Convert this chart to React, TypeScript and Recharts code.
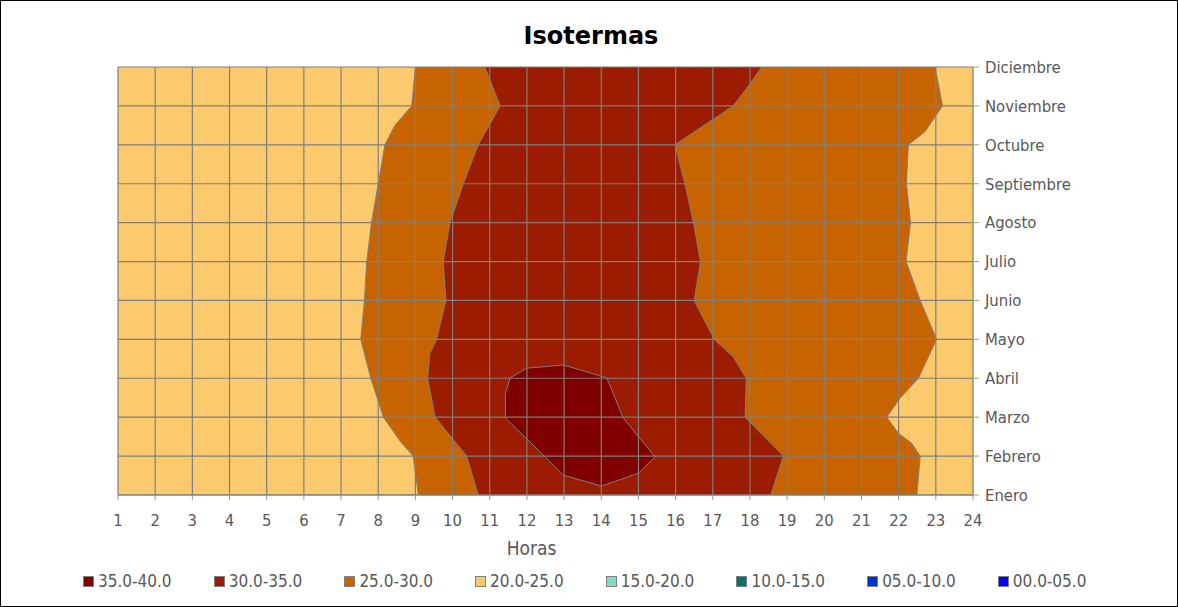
import React from 'react';
import { ComposedChart, Area, XAxis, YAxis, CartesianGrid, Legend } from 'recharts';

// Month categories (index 0 = Enero at the bottom of the plot)
const months = [
  'Enero', 'Febrero', 'Marzo', 'Abril', 'Mayo', 'Junio',
  'Julio', 'Agosto', 'Septiembre', 'Octubre', 'Noviembre', 'Diciembre',
];
const monthTicks = [0, 1, 2, 3, 4, 5, 6, 7, 8, 9, 10, 11];
const hourTicks = [1, 2, 3, 4, 5, 6, 7, 8, 9, 10, 11, 12, 13, 14, 15, 16, 17, 18, 19, 20, 21, 22, 23, 24];

// Isoline positions: m = month position, h = hour where the isoline crosses it
const iso25Morning = [
  { m: 0, h: 9.08 }, { m: 1, h: 8.94 }, { m: 1.37, h: 8.6 }, { m: 2, h: 8.14 },
  { m: 3, h: 7.8 }, { m: 4, h: 7.53 }, { m: 5, h: 7.63 }, { m: 6, h: 7.69 },
  { m: 7, h: 7.82 }, { m: 8, h: 8.0 }, { m: 9, h: 8.18 }, { m: 9.5, h: 8.45 },
  { m: 10, h: 8.9 }, { m: 11, h: 9.0 },
];
const iso30Morning = [
  { m: 0, h: 10.69 }, { m: 1, h: 10.38 }, { m: 2, h: 9.53 }, { m: 3, h: 9.33 },
  { m: 3.64, h: 9.39 }, { m: 4, h: 9.57 }, { m: 5, h: 9.82 }, { m: 6, h: 9.75 },
  { m: 7, h: 9.93 }, { m: 8, h: 10.29 }, { m: 9, h: 10.69 }, { m: 10, h: 11.28 },
  { m: 11, h: 10.87 },
];
const iso30Evening = [
  { m: 0, h: 18.56 }, { m: 1, h: 18.9 }, { m: 2, h: 17.87 }, { m: 3, h: 17.9 },
  { m: 3.55, h: 17.55 }, { m: 4, h: 17.04 }, { m: 5, h: 16.5 }, { m: 6, h: 16.67 },
  { m: 7, h: 16.48 }, { m: 8, h: 16.25 }, { m: 9, h: 15.98 }, { m: 10, h: 17.55 },
  { m: 10.45, h: 17.91 }, { m: 11, h: 18.32 },
];
const iso25Evening = [
  { m: 0, h: 22.49 }, { m: 1, h: 22.58 }, { m: 1.33, h: 22.35 }, { m: 1.59, h: 21.99 },
  { m: 2, h: 21.68 }, { m: 2.49, h: 22.04 }, { m: 3, h: 22.53 }, { m: 4, h: 23.02 },
  { m: 5, h: 22.58 }, { m: 6, h: 22.2 }, { m: 7, h: 22.32 }, { m: 8, h: 22.21 },
  { m: 9, h: 22.26 }, { m: 9.34, h: 22.71 }, { m: 10, h: 23.18 }, { m: 11, h: 22.98 },
];
// Closed 35-40 region: hour span [from, to] at each month position
const iso35Core = [
  { m: 0.23, r: [14.01, 14.01] }, { m: 0.51, r: [12.98, 14.85] },
  { m: 0.56, r: [12.93, 15.0] }, { m: 0.98, r: [12.49, 15.45] },
  { m: 1.98, r: [11.42, 14.59] }, { m: 2.61, r: [11.42, 14.32] },
  { m: 3.01, r: [11.55, 14.15] }, { m: 3.26, r: [12.0, 13.27] },
  { m: 3.34, r: [12.98, 12.98] },
];
// Whole plot starts in the 20-25 band
const plotBase = [{ m: 0, h: 1 }, { m: 11, h: 1 }];

const legendLabels = ['35.0-40.0', '30.0-35.0', '25.0-30.0', '20.0-25.0', '15.0-20.0', '10.0-15.0', '05.0-10.0', '00.0-05.0'];
const legendColors = ['#800000', '#9B1C00', '#C86400', '#FCCA6C', '#80DBC0', '#00736B', '#0033CC', '#0000FF'];

const C35 = legendColors[0];
const C30 = legendColors[1];
const C25 = legendColors[2];
const C20 = legendColors[3];
const EDGE = '#7F7F7F';
const TEXT = '#585858';
const OLIVE = '#A3A36A';
const FONT = "'DejaVu Sans Condensed', 'DejaVu Sans', sans-serif";

const IsoLegend = () => (
  <div style={{ height: 20, display: 'flex', alignItems: 'center', paddingLeft: 83, fontFamily: FONT, fontStretch: 'condensed', fontSize: 17, color: TEXT }}>
    {legendLabels.map((t, i) => (
      <div key={t} style={{ width: 130.7, flex: 'none', display: 'flex', alignItems: 'center' }}>
        <span style={{ width: 9, height: 9, border: `1px solid ${EDGE}`, background: legendColors[i], marginRight: 4, flex: 'none' }} />
        <span style={{ whiteSpace: 'nowrap', lineHeight: '20px' }}>{t}</span>
      </div>
    ))}
  </div>
);

const common = { type: 'linear' as const, isAnimationActive: false, dot: false, activeDot: false, fillOpacity: 1 };

export default function App() {
  return (
    <div style={{ position: 'absolute', left: 0, top: 0, width: 1178, height: 607, background: '#fff', boxShadow: 'inset 0 0 0 1px #000' }}>
      <div style={{ position: 'absolute', left: 4, top: 24, width: 1174, textAlign: 'center', fontFamily: "'DejaVu Sans', sans-serif", fontWeight: 'bold', fontSize: 24, lineHeight: '24px', color: '#000' }}>
        Isotermas
      </div>
      <ComposedChart width={1178} height={607} layout="vertical" margin={{ top: 67, left: 118, right: 0, bottom: 32 }}>
        <XAxis
          type="number"
          domain={[1, 24]}
          ticks={hourTicks}
          interval={0}
          allowDataOverflow
          axisLine={{ stroke: EDGE }}
          tickLine={{ stroke: '#9a9a9a' }}
          tickSize={5}
          tickMargin={14}
          height={60}
          tick={{ fill: TEXT, fontSize: 16.5, fontFamily: FONT, style: { fontStretch: 'condensed' } }}
          label={{ value: 'Horas', position: 'insideBottom', offset: 0, dx: -14, fill: TEXT, fontSize: 19, fontFamily: FONT, style: { fontStretch: 'condensed' } }}
        />
        <YAxis
          type="number"
          dataKey="m"
          orientation="right"
          reversed
          domain={[0, 11]}
          ticks={monthTicks}
          interval={0}
          allowDataOverflow
          width={205}
          axisLine={{ stroke: OLIVE }}
          tickLine={{ stroke: OLIVE }}
          tickSize={6}
          tickMargin={6}
          tickFormatter={(v: number) => months[v]}
          tick={{ fill: TEXT, fontSize: 16.5, fontFamily: FONT, style: { fontStretch: 'condensed' } }}
        />
        <Area {...common} data={plotBase} dataKey="h" baseValue="dataMax" fill={C20} stroke="none" />
        <Area {...common} data={iso25Morning} dataKey="h" baseValue="dataMax" fill={C25} stroke={EDGE} strokeWidth={1} />
        <Area {...common} data={iso30Morning} dataKey="h" baseValue="dataMax" fill={C30} stroke={EDGE} strokeWidth={1} />
        <Area {...common} data={iso30Evening} dataKey="h" baseValue="dataMax" fill={C25} stroke={EDGE} strokeWidth={1} />
        <Area {...common} data={iso25Evening} dataKey="h" baseValue="dataMax" fill={C20} stroke={EDGE} strokeWidth={1} />
        <Area {...common} data={iso35Core} dataKey="r" fill={C35} stroke={EDGE} strokeWidth={1} />
        <CartesianGrid stroke={EDGE} strokeWidth={1.2} zIndex={150} />
        <Legend verticalAlign="bottom" content={<IsoLegend />} wrapperStyle={{ top: 571, left: 0, bottom: 'auto', width: 1178 }} />
      </ComposedChart>
    </div>
  );
}
